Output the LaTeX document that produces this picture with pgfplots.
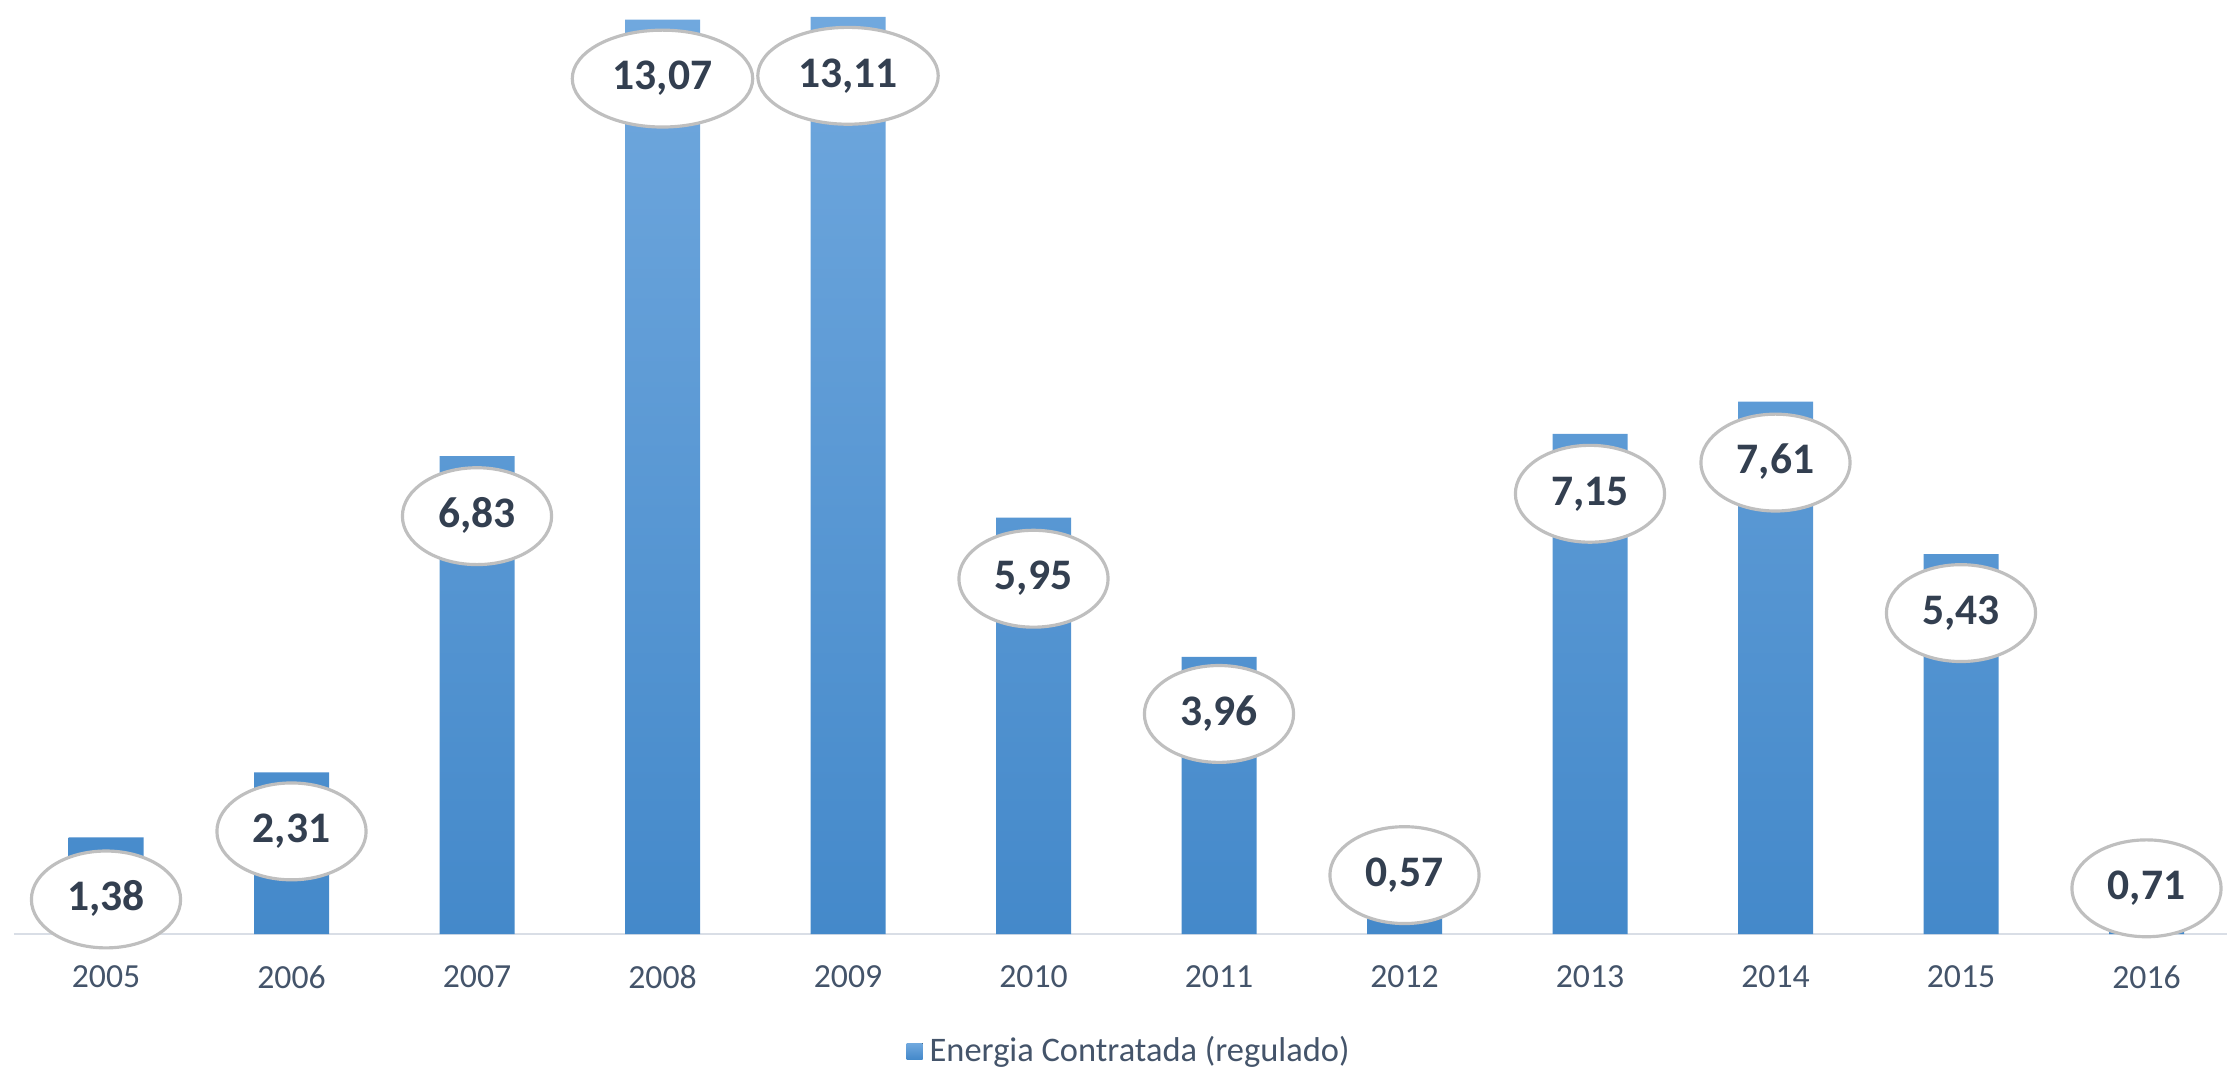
\documentclass[border=0pt]{standalone}
\usepackage{pgfplots}
\pgfplotsset{compat=1.18}
\usepackage{pgfplotstable}
\usepackage{fontspec}
\setmainfont{Carlito}
\usetikzlibrary{shapes.geometric}
\definecolor{bartop}{RGB}{112,168,222}
\definecolor{barbot}{RGB}{68,137,202}
\definecolor{lblcol}{RGB}{51,63,80}
\definecolor{tickcol}{RGB}{68,84,106}
\definecolor{axcol}{RGB}{217,222,230}
\definecolor{ellcol}{RGB}{191,191,191}
\pgfplotstableread{
x y lbl off
0 1.38 1,38 -6.2
1 2.31 2,31 -5.9
2 6.83 6,83 -6.0
3 13.07 13,07 -5.9
4 13.11 13,11 -5.9
5 5.95 5,95 -6.1
6 3.96 3,96 -5.7
7 0.57 0,57 1.9
8 7.15 7,15 -6.0
9 7.61 7,61 -6.1
10 5.43 5,43 -5.9
11 0.71 0,71 -0.4
}\datatable
\begin{document}
\begin{tikzpicture}
\begin{axis}[
  at={(1.4mm,13.6mm)}, anchor=south west,
  scale only axis,
  width=221.3mm, height=93.4mm,
  xmin=-0.496, xmax=11.434,
  ymin=0, ymax=13.35,
  axis y line=none,
  axis x line*=bottom,
  x axis line style={draw=axcol, line width=0.8pt, -},
  xtick=data,
  xticklabels={2005,2006,2007,2008,2009,2010,2011,2012,2013,2014,2015,2016},
  major tick length=0pt,
  xticklabel style={font=\fontsize{9.6}{11}\selectfont, text=tickcol, anchor=center, yshift=-4.3mm},
  ybar, bar width=7.5mm,
  legend style={at={(0.505,-0.1256)}, anchor=center, draw=none, fill=none,
    font=\fontsize{9.8}{11}\selectfont, text=tickcol, inner sep=0pt},
  legend image code/.code={\fill[top color=bartop, bottom color=barbot] (0mm,-0.8mm) rectangle (1.6mm,0.8mm);},
  clip=false,
]
\addplot[draw=none, top color=bartop, bottom color=barbot,
  point meta=explicit symbolic,
  visualization depends on={\thisrow{off} \as \myoff},
  nodes near coords={\pgfplotspointmeta},
  every node near coord/.append style={
    ellipse, draw=ellcol, line width=0.9pt, fill=white,
    anchor=center, yshift=\myoff mm,
    font=\fontsize{12.4}{14}\selectfont\bfseries, text=lblcol,
    text height=0.64em, text depth=0em,
    inner xsep=1.4mm, inner ysep=2.3mm}
] table[x=x, y=y, meta=lbl] {\datatable};
\addlegendentry{Energia Contratada (regulado)}
\end{axis}
\pgfresetboundingbox
\path (0,0) rectangle (222.7mm,107mm);
\end{tikzpicture}
\end{document}
